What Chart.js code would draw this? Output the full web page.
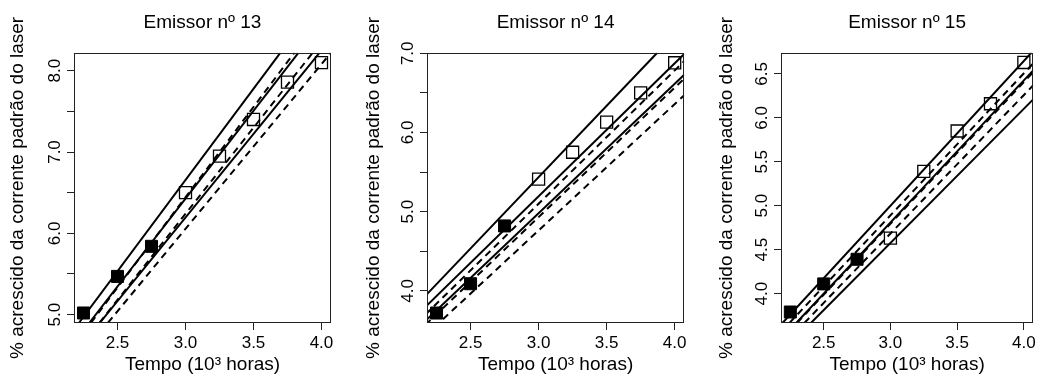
<!DOCTYPE html>
<html lang="pt">
<head>
<meta charset="UTF-8">
<title>Emissores 13, 14 e 15</title>
<script src="https://cdn.jsdelivr.net/npm/chart.js@4.4.0/dist/chart.umd.min.js"></script>
<style>
  body { margin: 0; background: #fff; }
  #wrap { position: relative; width: 1043px; height: 381px; }
  canvas { position: absolute; top: 0; }
</style>
</head>
<body>
<div id="wrap">
  <canvas id="c13" width="347" height="381" style="left:0px"></canvas>
  <canvas id="c14" width="347" height="381" style="left:347px"></canvas>
  <canvas id="c15" width="349" height="381" style="left:694px"></canvas>
</div>
<script>
// tempos (10^3 horas): observados (quadrados cheios) e futuros (quadrados vazios)
const tempoObs = [2.25, 2.5, 2.75];
const tempoFut = [3.0, 3.25, 3.5, 3.75, 4.0];

const emissor13Obs = [5.02, 5.47, 5.84];
const emissor13Fut = [6.50, 6.95, 7.40, 7.86, 8.10];
const emissor14Obs = [3.72, 4.09, 4.82];
const emissor14Fut = [5.41, 5.75, 6.13, 6.50, 6.88];
const emissor15Obs = [3.79, 4.11, 4.39];
const emissor15Fut = [4.63, 5.39, 5.85, 6.16, 6.63];

// retas: [x1, y1, x2, y2]
const linhas13Cheias = [[2.217, 4.90, 3.697, 8.22], [2.293, 4.90, 3.830, 8.22], [2.370, 4.90, 3.985, 8.22]];
const linhas13Tracejadas = [[2.305, 4.90, 3.800, 8.22], [2.367, 4.90, 3.935, 8.22], [2.430, 4.90, 4.069, 8.22]];
const linhas14Cheias = [[2.168, 3.937, 3.872, 7.006], [2.168, 3.797, 4.07, 6.99], [2.168, 3.62, 4.07, 6.73]];
const linhas14Tracejadas = [[2.168, 3.70, 4.07, 6.90], [2.168, 3.57, 4.07, 6.68], [2.168, 3.435, 4.07, 6.47]];
const linhas15Cheias = [[2.191, 3.665, 4.058, 6.743], [2.294, 3.665, 4.07, 6.54], [2.404, 3.665, 4.07, 6.21]];
const linhas15Tracejadas = [[2.243, 3.665, 4.07, 6.62], [2.300, 3.665, 4.07, 6.52], [2.355, 3.665, 4.07, 6.37]];

const xTicks = [2.5, 3.0, 3.5, 4.0];
const xLabels = ['2.5', '3.0', '3.5', '4.0'];
const yTicks13 = [5.0, 5.5, 6.0, 6.5, 7.0, 7.5, 8.0];
const yLabels13 = ['5.0', '', '6.0', '', '7.0', '', '8.0'];
const yTicks14 = [4.0, 4.5, 5.0, 5.5, 6.0, 6.5, 7.0];
const yLabels14 = ['4.0', '', '5.0', '', '6.0', '', '7.0'];
const yTicks15 = [4.0, 4.5, 5.0, 5.5, 6.0, 6.5];
const yLabels15 = ['4.0', '4.5', '5.0', '5.5', '6.0', '6.5'];

Chart.defaults.font.family = '"Liberation Sans", Arial, sans-serif';
Chart.defaults.color = '#000';

// caixa em volta da area do grafico, como o box() do R
const moldura = {
  id: 'moldura',
  afterDatasetsDraw(chart) {
    const { ctx, chartArea: a } = chart;
    ctx.save();
    ctx.strokeStyle = '#222';
    ctx.lineWidth = 1;
    ctx.strokeRect(Math.round(a.left) + 0.5, Math.round(a.top) + 0.5,
      Math.round(a.right - a.left) - 1, Math.round(a.bottom - a.top) - 1);
    ctx.restore();
  }
};

function retas(lista, tracejada) {
  return lista.map(l => ({
    data: [{ x: l[0], y: l[1] }, { x: l[2], y: l[3] }],
    showLine: true,
    borderColor: '#000',
    borderWidth: 2,
    borderDash: tracejada ? [7, 5] : [],
    pointRadius: 0,
    order: 1
  }));
}

function painel(id, titulo, obs, fut, cheias, tracejadas, yMin, yMax, yTicks, yLabels, caixa) {
  const ctx = document.getElementById(id).getContext('2d');
  new Chart(ctx, {
    type: 'scatter',
    data: {
      datasets: [
        {
          data: tempoObs.map((t, i) => ({ x: t, y: obs[i] })),
          pointStyle: 'rect', pointRadius: 8.5,
          backgroundColor: '#000', borderColor: '#000', borderWidth: 1,
          order: 0
        },
        {
          data: tempoFut.map((t, i) => ({ x: t, y: fut[i] })),
          pointStyle: 'rect', pointRadius: 8.5,
          backgroundColor: 'rgba(0,0,0,0)', borderColor: '#000', borderWidth: 1.3,
          order: 0
        },
        ...retas(cheias, false),
        ...retas(tracejadas, true)
      ]
    },
    options: {
      responsive: false,
      animation: false,
      layout: { padding: { left: 0, right: caixa.padDir, top: 0, bottom: 0 } },
      plugins: {
        legend: { display: false },
        tooltip: { enabled: false },
        title: {
          display: true, text: titulo, fullSize: false,
          font: { size: 19, weight: 'normal' },
          padding: { top: 11, bottom: 19 }
        }
      },
      scales: {
        x: {
          type: 'linear', min: 2.18, max: 4.07,
          afterBuildTicks: s => { s.ticks = xTicks.map(v => ({ value: v })); },
          afterFit: s => { s.height = 58; s.paddingLeft = 0; s.paddingRight = 0; },
          ticks: { callback: (v, i) => xLabels[i], font: { size: 17 }, padding: 3, maxRotation: 0, autoSkip: false },
          grid: { drawOnChartArea: false, drawTicks: true, tickLength: 7, color: '#222' },
          border: { display: false },
          title: { display: true, text: 'Tempo (10³ horas)', font: { size: 19 }, padding: { top: 0, bottom: 5 } }
        },
        y: {
          type: 'linear', min: yMin, max: yMax,
          afterBuildTicks: s => { s.ticks = yTicks.map(v => ({ value: v })); },
          afterFit: s => { s.width = caixa.esq; s.paddingTop = 0; s.paddingBottom = 0; },
          ticks: {
            callback: (v, i) => yLabels[i], font: { size: 17 }, padding: 0,
            minRotation: 90, maxRotation: 90, crossAlign: 'center', autoSkip: false
          },
          grid: { drawOnChartArea: false, drawTicks: true, tickLength: 7, color: '#222' },
          border: { display: false },
          title: {
            display: true, text: '% acrescido da corrente padrão do laser',
            font: { size: 19 }, padding: { top: caixa.tituloY, bottom: 0 }
          }
        }
      }
    },
    plugins: [moldura]
  });
}

painel('c13', 'Emissor nº 13', emissor13Obs, emissor13Fut, linhas13Cheias, linhas13Tracejadas,
  4.897, 8.22, yTicks13, yLabels13, { esq: 74, padDir: 16, tituloY: 6 });
painel('c14', 'Emissor nº 14', emissor14Obs, emissor14Fut, linhas14Cheias, linhas14Tracejadas,
  3.594, 7.006, yTicks14, yLabels14, { esq: 80, padDir: 9, tituloY: 15 });
painel('c15', 'Emissor nº 15', emissor15Obs, emissor15Fut, linhas15Cheias, linhas15Tracejadas,
  3.665, 6.74, yTicks15, yLabels15, { esq: 87, padDir: 5, tituloY: 21 });
</script>
</body>
</html>
